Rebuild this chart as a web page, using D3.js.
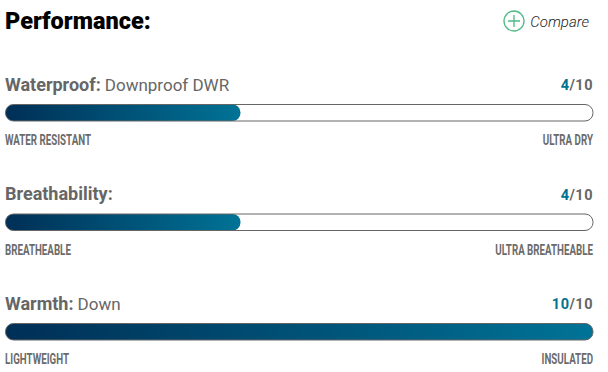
<!DOCTYPE html>
<html>
<head>
<meta charset="utf-8">
<script src="https://cdn.jsdelivr.net/npm/d3@7"></script>
<style>
	html, body { margin: 0; padding: 0; background: #fff; }
	svg { display: block; }
	text { font-family: "Roboto", sans-serif; }
	.low, .high { font-weight: 700; font-size: 15.5px; fill: #6b6b6b; }
</style>
</head>
<body>
<div id="chart"></div>
<script>
	var categories = ["Waterproof:", "Breathability:", "Warmth:"];
	var details = ["Downproof DWR", "", "Down"];
	var scores = [4, 4, 10];
	var lowLabels = ["WATER RESISTANT", "BREATHEABLE", "LIGHTWEIGHT"];
	var highLabels = ["ULTRA DRY", "ULTRA BREATHEABLE", "INSULATED"];
	var maxScore = 10;

	var wd = 608;
	var ht = 372;
	var barHt = 16.5;
	var rowTops = [104.5, 214, 323.5];
	var narrow = 0.63; // no condensed face installed, squeeze the end labels

	var svg = d3.select("#chart").append("svg")
		.attr("width", wd)
		.attr("height", ht);

	var x = d3.scaleLinear().domain([0, maxScore]).range([5.5, 593]);

	// one gradient per bar, it stretches over the filled part only
	var defs = svg.append("defs");
	scores.forEach(function(s, i) {
		var g = defs.append("linearGradient").attr("id", "fill" + i);
		g.append("stop").attr("offset", "0%").attr("stop-color", "#002f56");
		g.append("stop").attr("offset", "100%").attr("stop-color", "#007396");
	});

	svg.append("text")
		.attr("x", 5).attr("y", 29)
		.style("font-size", "23.5px").style("font-weight", 900)
		.attr("fill", "#000")
		.text("Performance:");

	// compare button
	var cmp = svg.append("g").attr("transform", "translate(514,21)");
	cmp.append("circle").attr("r", 10).attr("fill", "none").attr("stroke", "#4fb987").attr("stroke-width", 1.3);
	cmp.append("path").attr("d", "M-6,0H6M0,-6V6").attr("stroke", "#4fb987").attr("stroke-width", 1.3);
	svg.append("text")
		.attr("x", 589).attr("y", 27).attr("text-anchor", "end")
		.style("font-size", "15px").style("font-style", "italic").style("font-weight", 300).attr("fill", "#222")
		.text("Compare");

	var rows = svg.selectAll("g.row").data(categories).enter().append("g")
		.attr("class", "row")
		.attr("transform", function(d, i) { return "translate(0," + rowTops[i] + ")"; });

	var title = rows.append("text").attr("x", 5).attr("y", -14).attr("fill", "#666");
	title.append("tspan").style("font-size", "18px").style("font-weight", 700).text(function(d) { return d; });
	title.append("tspan").attr("dx", 4).style("font-size", "17px").style("font-weight", 400)
		.text(function(d, i) { return details[i]; });

	var score = rows.append("text").attr("x", 593).attr("y", -14.5).attr("text-anchor", "end")
		.style("font-size", "14.5px").style("font-weight", 700).style("letter-spacing", "0.5px").attr("fill", "#666");
	score.append("tspan").attr("fill", "#00728f").text(function(d, i) { return scores[i]; });
	score.append("tspan").text("/" + maxScore);

	rows.append("rect")
		.attr("x", x(0)).attr("y", 0)
		.attr("width", x(maxScore) - x(0)).attr("height", barHt)
		.attr("rx", 8)
		.attr("fill", "#fff");

	rows.append("rect")
		.attr("x", x(0)).attr("y", 0)
		.attr("width", function(d, i) { return x(scores[i]) - x(0); }).attr("height", barHt)
		.attr("rx", 8)
		.attr("fill", function(d, i) { return "url(#fill" + i + ")"; });

	// outline goes on top, the grey edge shows over the fill as well
	rows.append("rect")
		.attr("x", x(0)).attr("y", 0)
		.attr("width", x(maxScore) - x(0)).attr("height", barHt)
		.attr("rx", 8)
		.attr("fill", "none").attr("stroke", "#666").attr("stroke-width", 1);

	rows.append("text").attr("class", "low")
		.attr("transform", "translate(5,40.5) scale(" + narrow + ",1)")
		.text(function(d, i) { return lowLabels[i]; });
	rows.append("text").attr("class", "high")
		.attr("transform", "translate(593,40.5) scale(" + narrow + ",1)")
		.attr("text-anchor", "end")
		.text(function(d, i) { return highLabels[i]; });
</script>
</body>
</html>
